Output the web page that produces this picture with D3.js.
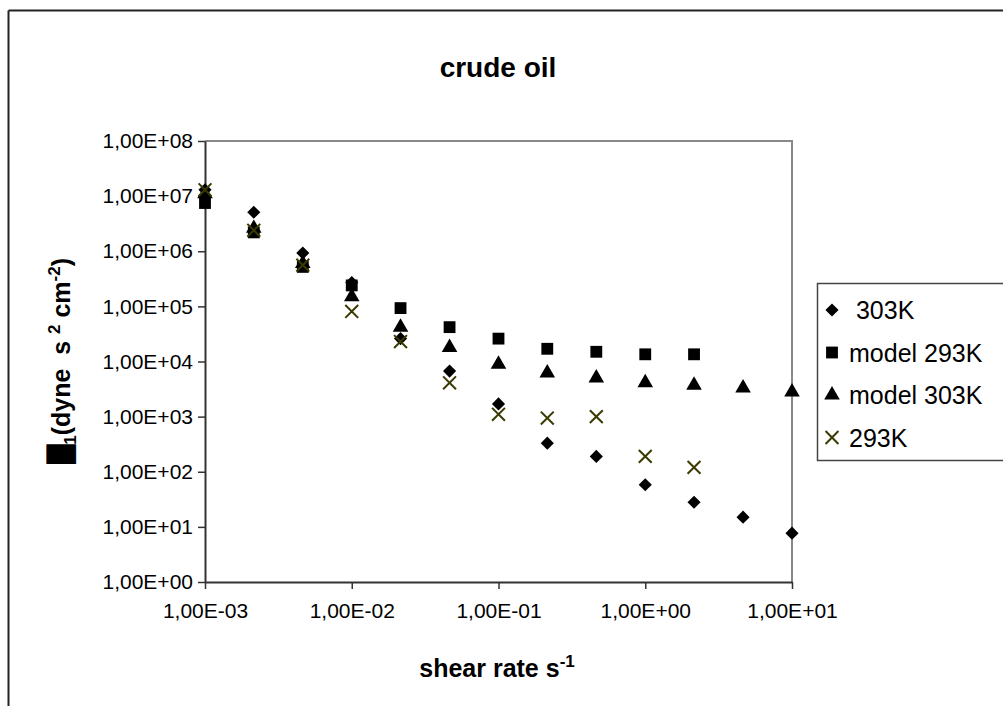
<!DOCTYPE html>
<html>
<head>
<meta charset="utf-8">
<script src="https://cdn.jsdelivr.net/npm/d3@7"></script>
<style>
  html, body { margin: 0; padding: 0; background: #fff; }
  svg { display: block; }
  text { font-family: "Liberation Sans", Arial, sans-serif; fill: #000; }
</style>
</head>
<body>
<svg id="chart" width="1003" height="706"></svg>
<script>
// Shear rates (s^-1), one third of a decade apart
const shearRates = [0.001, 0.00215, 0.00464, 0.01, 0.0215, 0.0464, 0.1, 0.215, 0.464, 1, 2.15, 4.64, 10];

// Viscosity η1 (dyne s² cm⁻²) per series
const measured303K = [1.3e7, 5.1e6, 9.3e5, 2.7e5, 2.6e4, 6.7e3, 1.7e3, 3.3e2, 1.9e2, 58, 28, 15, 7.7];
const model293K    = [7.5e6, 2.2e6, 5.2e5, 2.4e5, 9.3e4, 4.2e4, 2.6e4, 1.7e4, 1.5e4, 1.35e4, 1.35e4];
const model303K    = [1.1e7, 2.6e6, 6.0e5, 1.5e5, 4.2e4, 1.8e4, 8.9e3, 6.2e3, 5.0e3, 4.1e3, 3.7e3, 3.3e3, 2.8e3];
const measured293K = [1.3e7, 2.4e6, 5.6e5, 8.1e4, 2.3e4, 4.1e3, 1.1e3, 9.4e2, 1.0e3, 1.9e2, 1.2e2];

const xTicks = [1e-3, 1e-2, 1e-1, 1e0, 1e1];
const yTicks = [1e0, 1e1, 1e2, 1e3, 1e4, 1e5, 1e6, 1e7, 1e8];
const xTickLabels = ["1,00E-03", "1,00E-02", "1,00E-01", "1,00E+00", "1,00E+01"];
const yTickLabels = ["1,00E+00", "1,00E+01", "1,00E+02", "1,00E+03", "1,00E+04", "1,00E+05", "1,00E+06", "1,00E+07", "1,00E+08"];

const seriesNames = [" 303K", "model 293K", "model 303K", "293K"];

const series = [
  { name: seriesNames[0], values: measured303K, shape: "diamond" },
  { name: seriesNames[1], values: model293K,    shape: "square" },
  { name: seriesNames[2], values: model303K,    shape: "triangle" },
  { name: seriesNames[3], values: measured293K, shape: "cross" }
];

const svg = d3.select("#chart");

// Outer chart frame (top and left edges)
svg.append("line").attr("x1", 8.5).attr("y1", 10.5).attr("x2", 1003).attr("y2", 10.5)
  .attr("stroke", "#222").attr("stroke-width", 2);
svg.append("line").attr("x1", 8.5).attr("y1", 10.5).attr("x2", 8.5).attr("y2", 706)
  .attr("stroke", "#222").attr("stroke-width", 2);

const plot = { left: 205, top: 141, right: 792, bottom: 582 };

const x = d3.scaleLog().domain([1e-3, 1e1]).range([plot.left, plot.right]);
const y = d3.scaleLog().domain([1e0, 1e8]).range([plot.bottom, plot.top]);

// Plot-area border (top and right)
svg.append("path")
  .attr("d", `M${plot.left},${plot.top}H${plot.right}V${plot.bottom}`)
  .attr("fill", "none").attr("stroke", "#888").attr("stroke-width", 2);

// Axes
const xAxis = d3.axisBottom(x).tickValues(xTicks)
  .tickFormat((d, i) => xTickLabels[i]).tickSize(7).tickSizeOuter(0).tickPadding(14);
const yAxis = d3.axisLeft(y).tickValues(yTicks)
  .tickFormat((d, i) => yTickLabels[i]).tickSize(7).tickSizeOuter(0).tickPadding(5);

const gx = svg.append("g").attr("transform", `translate(0,${plot.bottom})`).call(xAxis);
const gy = svg.append("g").attr("transform", `translate(${plot.left},0)`).call(yAxis);

[gx, gy].forEach(g => {
  g.select(".domain").attr("stroke", "#333").attr("stroke-width", 2);
  g.selectAll(".tick line").attr("stroke", "#333").attr("stroke-width", 1.5);
  g.selectAll(".tick text").attr("font-family", "Liberation Sans, Arial, sans-serif")
    .attr("font-size", 21).attr("fill", "#000");
});

// Marker shapes
const symbolFor = {
  diamond:  d3.symbol().type(d3.symbolDiamond2).size(110),
  square:   d3.symbol().type(d3.symbolSquare).size(140),
  triangle: d3.symbol().type(d3.symbolTriangle).size(105),
  cross:    d3.symbol().type(d3.symbolTimes).size(110)
};

function drawMarker(g, shape) {
  const p = g.append("path").attr("d", symbolFor[shape]());
  if (shape === "cross") {
    p.attr("fill", "none").attr("stroke", "#3a3a00").attr("stroke-width", 2);
  } else {
    p.attr("fill", "#000");
  }
  return p;
}

series.forEach(s => {
  const g = svg.append("g");
  s.values.forEach((v, i) => {
    const m = g.append("g").attr("transform", `translate(${x(shearRates[i])},${y(v)})`);
    drawMarker(m, s.shape);
  });
});

// Title
svg.append("text").attr("x", 498).attr("y", 77).attr("text-anchor", "middle")
  .attr("font-size", 28).attr("font-weight", "bold").text("crude oil");

// X axis title
const xt = svg.append("text").attr("x", 497).attr("y", 677).attr("text-anchor", "middle")
  .attr("font-size", 25).attr("font-weight", "bold");
xt.append("tspan").text("shear rate s");
xt.append("tspan").attr("dy", -10).attr("font-size", 17).text("-1");

// Y axis title (η rendered as a solid block glyph)
const yt = svg.append("text")
  .attr("transform", "translate(70,361) rotate(-90)")
  .attr("text-anchor", "middle").attr("font-size", 25).attr("font-weight", "bold")
  .style("white-space", "pre");
yt.append("tspan").attr("font-family", "DejaVu Sans").text("\u2588");
yt.append("tspan").attr("dy", 6).attr("font-size", 17).text("1");
yt.append("tspan").attr("dy", -6).text("(dyne  s ");
yt.append("tspan").attr("dy", -10).attr("font-size", 17).text("2");
yt.append("tspan").attr("dy", 10).text(" cm");
yt.append("tspan").attr("dy", -10).attr("font-size", 17).text("-2");
yt.append("tspan").attr("dy", 10).text(")");

// Legend
const legend = svg.append("g");
legend.append("rect").attr("x", 817.5).attr("y", 283.5).attr("width", 200).attr("height", 177)
  .attr("fill", "#fff").attr("stroke", "#444").attr("stroke-width", 1.5);

series.forEach((s, i) => {
  const cy = 310 + i * 42.5;
  const m = legend.append("g").attr("transform", `translate(832,${cy})`);
  drawMarker(m, s.shape);
  legend.append("text").attr("x", 849).attr("y", cy).attr("dy", "0.36em")
    .attr("font-size", 25).style("white-space", "pre").text(s.name);
});
</script>
</body>
</html>
